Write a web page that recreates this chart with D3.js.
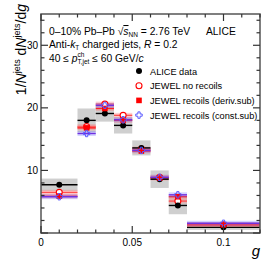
<!DOCTYPE html>
<html>
<head>
<meta charset="utf-8">
<script src="https://cdn.jsdelivr.net/npm/d3@7"></script>
<style>
  body { margin: 0; background: #fff; }
  text { font-family: "Liberation Sans", Arial, sans-serif; }
</style>
</head>
<body>
<script>
// bins in g
const binLo = [0, 0.02, 0.03, 0.04, 0.05, 0.06, 0.07, 0.08];
const binHi = [0.02, 0.03, 0.04, 0.05, 0.06, 0.07, 0.08, 0.12];
const aliceVal = [7.7, 18.0, 19.1, 17.2, 13.6, 8.6, 4.4, 0.9];
const aliceSys = [1.0, 1.9, 1.3, 1.3, 1.2, 1.4, 1.4, 0.4];
const noRecoil = [6.5, 17.0, 20.6, 18.8, 13.4, 8.9, 5.1, 1.3];
const derivSub = [5.9, 16.8, 19.9, 18.0, 13.1, 8.8, 5.8, 1.3];
const constSub = [5.8, 15.9, 20.4, 18.1, 13.2, 8.9, 6.1, 1.55];
const xTicks = [0, 0.05, 0.1];
const yTicks = [10, 20, 30];

const W = 274, H = 274;
const m = {left: 41, right: 14, top: 14, bottom: 41};

const svg = d3.select('body').append('svg')
  .attr('width', W).attr('height', H);

const x = d3.scaleLinear().domain([0, 0.12]).range([m.left, W - m.right]);
const y = d3.scaleLinear().domain([0, 35]).range([H - m.bottom, m.top]);

const bins = binLo.map((lo, i) => ({lo: lo, hi: binHi[i], c: (lo + binHi[i]) / 2, i: i}));

// ALICE systematic boxes
svg.append('g').selectAll('rect').data(bins).enter().append('rect')
  .attr('x', d => x(d.lo))
  .attr('width', d => x(d.hi) - x(d.lo))
  .attr('y', d => y(aliceVal[d.i] + aliceSys[d.i]))
  .attr('height', d => y(aliceVal[d.i] - aliceSys[d.i]) - y(aliceVal[d.i] + aliceSys[d.i]))
  .attr('fill', '#cfcfcf');

// JEWEL bands + lines
const models = [
  {vals: noRecoil, line: '#ff5050', band: 'rgba(255,120,120,0.35)'},
  {vals: derivSub, line: '#ff2020', band: 'rgba(255,120,120,0.35)'},
  {vals: constSub, line: '#7030e0', band: 'rgba(110,110,255,0.3)'}
];
models.forEach(mo => {
  const g = svg.append('g');
  g.selectAll('rect').data(bins).enter().append('rect')
    .attr('x', d => x(d.lo))
    .attr('width', d => x(d.hi) - x(d.lo))
    .attr('y', d => y(mo.vals[d.i] + 0.4))
    .attr('height', d => y(mo.vals[d.i] - 0.4) - y(mo.vals[d.i] + 0.4))
    .attr('fill', mo.band);
  g.selectAll('line').data(bins).enter().append('line')
    .attr('x1', d => x(d.lo)).attr('x2', d => x(d.hi))
    .attr('y1', d => y(mo.vals[d.i])).attr('y2', d => y(mo.vals[d.i]))
    .attr('stroke', mo.line).attr('stroke-width', 1.4);
});

// ALICE lines
svg.append('g').selectAll('line').data(bins).enter().append('line')
  .attr('x1', d => x(d.lo)).attr('x2', d => x(d.hi))
  .attr('y1', d => y(aliceVal[d.i])).attr('y2', d => y(aliceVal[d.i]))
  .attr('stroke', '#000').attr('stroke-width', 1.4);

// markers
function circleOpen(g, cx, cy) {
  g.append('circle').attr('cx', cx).attr('cy', cy).attr('r', 3)
    .attr('fill', '#fff').attr('stroke', '#ff0000').attr('stroke-width', 1.1);
}
function squareFill(g, cx, cy) {
  g.append('rect').attr('x', cx - 2.8).attr('y', cy - 2.8).attr('width', 5.6).attr('height', 5.6)
    .attr('fill', '#ff0000');
}
function crossOpen(g, cx, cy) {
  const a = 1.1, b = 3.2;
  const p = `M${cx - a},${cy - b}H${cx + a}V${cy - a}H${cx + b}V${cy + a}H${cx + a}V${cy + b}H${cx - a}V${cy + a}H${cx - b}V${cy - a}H${cx - a}Z`;
  g.append('path').attr('d', p).attr('fill', 'none').attr('stroke', '#5a5aff').attr('stroke-width', 1);
}
function dotFill(g, cx, cy) {
  g.append('circle').attr('cx', cx).attr('cy', cy).attr('r', 3).attr('fill', '#000');
}

const mk = svg.append('g');
bins.forEach(d => {
  circleOpen(mk, x(d.c), y(noRecoil[d.i]));
  dotFill(mk, x(d.c), y(aliceVal[d.i]));
  squareFill(mk, x(d.c), y(derivSub[d.i]));
  crossOpen(mk, x(d.c), y(constSub[d.i]));
});

// axes (ROOT style: ticks inside, mirrored)
const ax = svg.append('g');
const x0 = x(0), x1 = x(0.12), y0 = y(0), y1 = y(35);
ax.append('rect').attr('x', x0).attr('y', y1).attr('width', x1 - x0).attr('height', y0 - y1)
  .attr('fill', 'none').attr('stroke', '#555').attr('stroke-width', 1.5);

const xMinor = d3.range(0, 0.1201, 0.01);
xMinor.forEach(v => {
  const major = xTicks.some(t => Math.abs(t - v) < 1e-6);
  const len = major ? 7 : 3.5;
  ax.append('line').attr('x1', x(v)).attr('x2', x(v)).attr('y1', y0).attr('y2', y0 - len)
    .attr('stroke', '#333').attr('stroke-width', 1.2);
  ax.append('line').attr('x1', x(v)).attr('x2', x(v)).attr('y1', y1).attr('y2', y1 + len)
    .attr('stroke', '#333').attr('stroke-width', 1.2);
});
const yMinor = d3.range(0, 35.01, 2);
yMinor.forEach(v => {
  const major = v % 10 === 0;
  const len = major ? 7 : 3.5;
  ax.append('line').attr('x1', x0).attr('x2', x0 + len).attr('y1', y(v)).attr('y2', y(v))
    .attr('stroke', '#333').attr('stroke-width', 1.2);
  ax.append('line').attr('x1', x1).attr('x2', x1 - len).attr('y1', y(v)).attr('y2', y(v))
    .attr('stroke', '#333').attr('stroke-width', 1.2);
});
ax.selectAll('.xl').data(xTicks).enter().append('text')
  .attr('x', d => x(d)).attr('y', y0 + 13)
  .attr('text-anchor', 'middle').attr('font-size', 10).text(d => d);
ax.selectAll('.yl').data(yTicks).enter().append('text')
  .attr('x', x0 - 3).attr('y', d => y(d) + 3.5)
  .attr('text-anchor', 'end').attr('font-size', 10).text(d => d);

// axis titles
svg.append('text').attr('x', x1).attr('y', 256).attr('text-anchor', 'end')
  .attr('font-size', 15).attr('font-style', 'italic').text('g');
const yt = svg.append('text').attr('transform', `translate(26,4) rotate(-90)`)
  .attr('text-anchor', 'end').attr('font-size', 14);
yt.append('tspan').text('1/');
yt.append('tspan').attr('font-style', 'italic').text('N');
yt.append('tspan').attr('font-size', 9).attr('dy', -6).text('jets');
yt.append('tspan').attr('dy', 6).text(' d');
yt.append('tspan').attr('font-style', 'italic').text('N');
yt.append('tspan').attr('font-size', 9).attr('dy', -6).text('jets');
yt.append('tspan').attr('dy', 6).text('/d');
yt.append('tspan').attr('font-style', 'italic').text('g');

// labels
const t1 = svg.append('text').attr('x', 49).attr('y', 35).attr('font-size', 10.3);
t1.append('tspan').text('0–10% Pb–Pb ');
t1.append('tspan').text('√');
t1.append('tspan').attr('font-style', 'italic').attr('text-decoration', 'overline').text('s');
t1.append('tspan').attr('font-size', 6.5).attr('dy', 2).text('NN');
t1.append('tspan').attr('dy', -2).text(' = 2.76 TeV');
svg.append('text').attr('x', 206).attr('y', 35).attr('font-size', 10.3).text('ALICE');

const t2 = svg.append('text').attr('x', 49).attr('y', 48).attr('font-size', 10.3);
t2.append('tspan').text('Anti-');
t2.append('tspan').attr('font-style', 'italic').text('k');
t2.append('tspan').attr('font-size', 6.5).attr('dy', 2).text('T');
t2.append('tspan').attr('dy', -2).text('  charged jets, ');
t2.append('tspan').attr('font-style', 'italic').text('R');
t2.append('tspan').text(' = 0.2');

const t3 = svg.append('text').attr('x', 49).attr('y', 62).attr('font-size', 10.3);
t3.append('tspan').text('40 ≤ ');
t3.append('tspan').attr('font-style', 'italic').text('p');
t3.append('tspan').attr('font-size', 6.5).attr('dy', -5).text('ch');
t3.append('tspan').attr('font-size', 6.5).attr('dx', -7).attr('dy', 7).text('T,jet');
t3.append('tspan').attr('dy', -2).text(' ≤ 60 GeV/');
t3.append('tspan').attr('font-style', 'italic').text('c');

// legend
const legNames = ['ALICE data', 'JEWEL no recoils', 'JEWEL recoils (deriv.sub)', 'JEWEL recoils (const.sub)'];
const legDraw = [dotFill, circleOpen, squareFill, crossOpen];
const lg = svg.append('g');
legNames.forEach((n, i) => {
  const ly = 71 + i * 14.7;
  legDraw[i](lg, 139, ly);
  lg.append('text').attr('x', 150).attr('y', ly + 3.5).attr('font-size', 9.2).text(n);
});
</script>
</body>
</html>
